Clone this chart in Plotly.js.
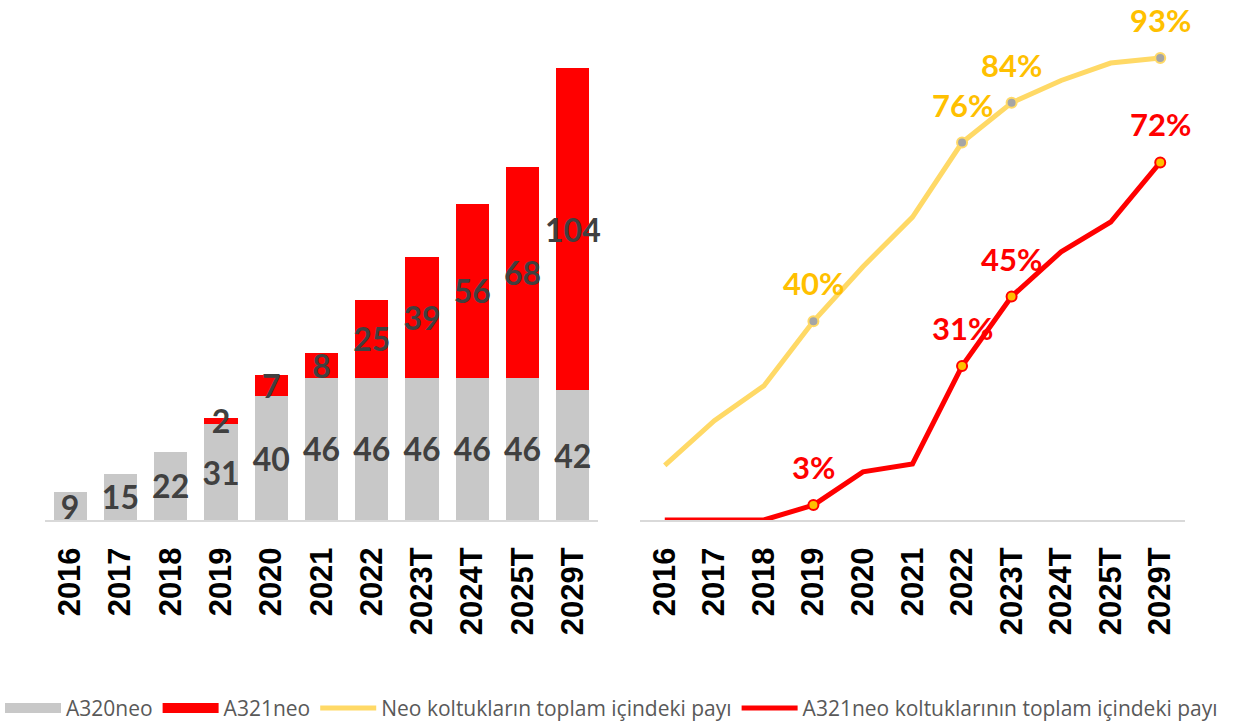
<!DOCTYPE html>
<html>
<head>
<meta charset="utf-8">
<script src="https://cdn.plot.ly/plotly-3.0.1.min.js"></script>
<style>
html,body{margin:0;padding:0;background:#fff;}
#chart{width:1238px;height:723px;}
</style>
</head>
<body>
<div id="chart"></div>
<script>
const years = ['2016','2017','2018','2019','2020','2021','2022','2023T','2024T','2025T','2029T'];
const a320neo = [9, 15, 22, 31, 40, 46, 46, 46, 46, 46, 42];
const a321neo = [0, 0, 0, 2, 7, 8, 25, 39, 56, 68, 104];
const neoShare = [11, 20, 27, 40, 51, 61, 76, 84, 88.5, 92, 93];
const a321Share = [0, 0, 0, 3, 9.7, 11.3, 31, 45, 54, 60, 72];
const labeledIdx = [3, 6, 7, 10];

const labelFont = 'Lato, "Open Sans", sans-serif';
const legendFont = '"Open Sans", Lato, sans-serif';
const tickFont = '"Liberation Sans", Arial, sans-serif';
const barTextFont = {family: labelFont, size: 32, color: '#404040', weight: 'bold'};

const traces = [
  {
    type: 'bar', name: 'A320neo', x: years, y: a320neo, showlegend: false,
    xaxis: 'x', yaxis: 'y',
    marker: {color: '#C8C8C8'},
    text: a320neo.map(v => v > 0 ? String(v) : ''),
    textposition: 'inside', insidetextanchor: 'middle', constraintext: 'none', textangle: 0,
    textfont: barTextFont, insidetextfont: barTextFont, cliponaxis: false,
    hoverinfo: 'skip'
  },
  {
    type: 'bar', name: 'A321neo', x: years, y: a321neo, showlegend: false,
    xaxis: 'x', yaxis: 'y',
    marker: {color: '#FF0000'},
    text: a321neo.map(v => v > 0 ? String(v) : ''),
    textposition: 'inside', insidetextanchor: 'middle', constraintext: 'none', textangle: 0,
    textfont: barTextFont, insidetextfont: barTextFont, cliponaxis: false,
    hoverinfo: 'skip'
  },
  // legend keys for the bar series (drawn as wide blocks like the original legend)
  {
    type: 'scatter', mode: 'lines', name: 'A320neo', x: [null], y: [null],
    xaxis: 'x', yaxis: 'y', line: {color: '#C8C8C8', width: 15}, hoverinfo: 'skip'
  },
  {
    type: 'scatter', mode: 'lines', name: 'A321neo', x: [null], y: [null],
    xaxis: 'x', yaxis: 'y', line: {color: '#FF0000', width: 15}, hoverinfo: 'skip'
  },
  {
    type: 'scatter', mode: 'lines', name: 'Neo koltukların toplam içindeki payı',
    x: years, y: neoShare, xaxis: 'x2', yaxis: 'y2',
    line: {color: '#FFD966', width: 5}, cliponaxis: false, hoverinfo: 'skip'
  },
  {
    type: 'scatter', mode: 'lines', name: 'A321neo koltuklarının toplam içindeki payı',
    x: years, y: a321Share, xaxis: 'x2', yaxis: 'y2',
    line: {color: '#FF0000', width: 5}, cliponaxis: false, hoverinfo: 'skip'
  },
  {
    type: 'scatter', mode: 'markers', showlegend: false,
    x: labeledIdx.map(i => years[i]), y: labeledIdx.map(i => neoShare[i]),
    xaxis: 'x2', yaxis: 'y2',
    marker: {color: '#A5A5A5', size: 10, line: {color: '#FFD966', width: 2}},
    cliponaxis: false, hoverinfo: 'skip'
  },
  {
    type: 'scatter', mode: 'markers', showlegend: false,
    x: labeledIdx.map(i => years[i]), y: labeledIdx.map(i => a321Share[i]),
    xaxis: 'x2', yaxis: 'y2',
    marker: {color: '#FFC000', size: 10, line: {color: '#FF0000', width: 2}},
    cliponaxis: false, hoverinfo: 'skip'
  }
];

const annotations = [];
labeledIdx.forEach(i => {
  annotations.push({
    xref: 'x2', yref: 'y2', x: i, y: neoShare[i], yshift: 38,
    text: Math.round(neoShare[i]) + '%', showarrow: false,
    font: {family: labelFont, size: 31, color: '#FFC000', weight: 'bold'}
  });
  annotations.push({
    xref: 'x2', yref: 'y2', x: i, y: a321Share[i], yshift: 38,
    text: Math.round(a321Share[i]) + '%', showarrow: false,
    font: {family: labelFont, size: 31, color: '#FF0000', weight: 'bold'}
  });
});

const xCommon = {
  type: 'category', showgrid: false, zeroline: false,
  showline: true, linecolor: '#D9D9D9', linewidth: 2,
  ticks: '', tickangle: -90, ticklabelstandoff: 13,
  tickfont: {family: tickFont, size: 31, color: '#000000', weight: 'bold'},
  range: [-0.5, 10.5], fixedrange: true
};

const layout = {
  width: 1238, height: 723,
  margin: {l: 0, r: 0, t: 0, b: 203, autoexpand: false},
  paper_bgcolor: '#FFFFFF', plot_bgcolor: '#FFFFFF',
  barmode: 'stack', bargap: 0.34,
  showlegend: true,
  legend: {
    orientation: 'h', x: 0, xanchor: 'left', y: -0.362, yanchor: 'middle',
    font: {family: legendFont, size: 21, color: '#595959'},
    itemwidth: 56, tracegroupgap: 0, traceorder: 'normal'
  },
  xaxis: Object.assign({}, xCommon, {domain: [45/1238, 598/1238], anchor: 'y'}),
  xaxis2: Object.assign({}, xCommon, {domain: [640/1238, 1185/1238], anchor: 'y2'}),
  yaxis: {range: [0, 168], visible: false, domain: [0, 1], anchor: 'x', fixedrange: true},
  yaxis2: {range: [0, 104.7], visible: false, domain: [0, 1], anchor: 'x2', fixedrange: true},
  annotations: annotations
};

Plotly.newPlot('chart', traces, layout, {displayModeBar: false, staticPlot: true});
</script>
</body>
</html>
